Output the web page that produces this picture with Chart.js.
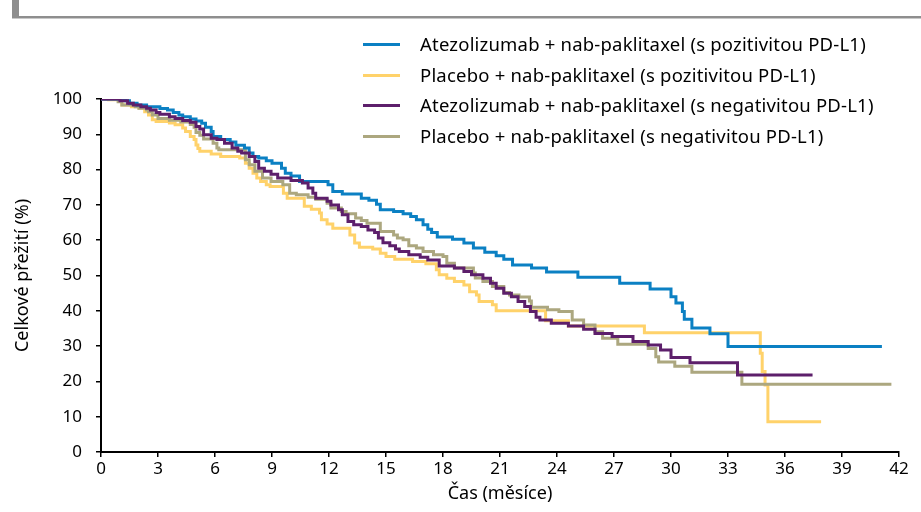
<!DOCTYPE html>
<html>
<head>
<meta charset="utf-8">
<script src="https://cdn.jsdelivr.net/npm/chart.js@4/dist/chart.umd.min.js"></script>
<style>
  html, body { margin: 0; padding: 0; background: #fff; }
  #wrap { position: relative; width: 921px; height: 512px; font-family: "Noto Sans", sans-serif; }
  #bar { position: absolute; left: 12px; top: 0; width: 7px; height: 18px; background: #8e8e8e; }
  #rule { position: absolute; left: 12px; top: 16px; right: 0; height: 2px; background: #8e8e8e; border-bottom: 1px solid #c8c8c8; }
  #legend { position: absolute; left: 363px; top: 29px; }
  .row { position: relative; height: 30.5px; line-height: 30px; font-size: 18.5px; letter-spacing: 0.2px; color: #000; white-space: nowrap; }
  .row span.sw { position: absolute; left: 0; top: 14px; width: 37px; height: 3px; }
  .row span.tx { position: absolute; left: 57px; top: 0; }
</style>
</head>
<body>
<div id="wrap">
  <canvas id="km" width="921" height="512"></canvas>
  <div id="bar"></div>
  <div id="rule"></div>
  <div id="legend"></div>
</div>
<script>
// months / overall survival (%)
const atezoPosT = [0, 1.3, 1.5, 1.9, 2.4, 3.1, 3.5, 3.8, 4.1, 4.3, 4.7, 5.0, 5.3, 5.5, 5.8, 5.9, 6.3, 6.8, 7.1, 7.55, 7.8, 8.0, 8.3, 8.7, 9.0, 9.5, 9.7, 10.0, 10.45, 11.95, 12.2, 12.7, 13.7, 14.1, 14.5, 14.7, 15.4, 15.9, 16.3, 16.6, 16.95, 17.2, 17.4, 17.7, 18.5, 19.1, 19.6, 20.2, 20.8, 21.2, 21.66, 22.66, 23.45, 25.1, 27.3, 28.9, 30.0, 30.26, 30.6, 30.7, 31.1, 32.05, 33.0, 41.1];
const atezoPosS = [100, 99.5, 98.8, 98.3, 97.8, 97.3, 96.9, 96.2, 95.5, 95.0, 94.3, 93.8, 93.1, 92.0, 90.8, 89.4, 88.5, 87.8, 86.9, 86.1, 84.7, 83.7, 83.3, 82.5, 81.8, 80.4, 79.0, 78.2, 76.6, 75.7, 73.8, 73.1, 71.9, 71.3, 70.2, 68.6, 68.1, 67.5, 66.7, 65.8, 64.4, 63.1, 62.2, 60.9, 60.3, 59.2, 57.8, 56.6, 55.6, 54.6, 53.0, 52.1, 51.0, 49.5, 47.8, 46.2, 44.0, 42.2, 39.8, 37.6, 35.1, 33.5, 29.9, 29.9];

const placeboPosT = [0, 0.4, 1.1, 1.6, 2.0, 2.3, 2.5, 2.7, 2.9, 3.6, 3.9, 4.3, 4.45, 4.7, 4.9, 5.0, 5.1, 5.2, 5.8, 6.3, 7.3, 7.6, 7.8, 8.0, 8.2, 8.4, 8.7, 8.9, 9.6, 9.8, 10.7, 11.07, 11.5, 11.6, 11.9, 12.2, 13.1, 13.35, 13.6, 14.3, 14.7, 15.0, 15.46, 16.4, 17.1, 17.65, 17.8, 18.2, 18.6, 19.1, 19.4, 19.76, 19.9, 20.6, 20.8, 23.4, 24.6, 28.6, 34.7, 34.8, 34.95, 35.1, 37.9];
const placeboPosS = [100, 99.8, 98.3, 97.8, 97.4, 96.4, 95.5, 94.1, 93.6, 93.2, 92.7, 91.8, 90.8, 89.4, 88.5, 87.0, 86.0, 85.2, 84.4, 83.7, 83.3, 81.8, 80.4, 79.0, 77.6, 76.6, 75.7, 75.2, 73.3, 71.9, 69.6, 68.8, 67.7, 65.8, 64.6, 63.4, 61.5, 59.2, 58.0, 57.5, 56.3, 55.4, 54.6, 54.0, 53.3, 51.6, 50.2, 49.2, 48.3, 47.3, 45.4, 44.5, 42.6, 41.7, 40.0, 37.2, 35.7, 33.8, 28.0, 22.8, 19.0, 8.6, 8.6];

const atezoNegT = [0, 1.0, 1.4, 1.7, 2.1, 2.4, 2.6, 2.9, 3.1, 3.6, 3.9, 4.3, 4.7, 5.0, 5.2, 5.4, 5.8, 6.1, 6.5, 6.9, 7.2, 7.4, 7.8, 8.1, 8.3, 8.6, 8.95, 9.3, 10.0, 10.6, 10.9, 11.15, 11.3, 11.9, 12.1, 12.5, 12.7, 13.0, 13.3, 13.7, 14.05, 14.4, 14.6, 14.84, 15.2, 15.5, 15.7, 16.2, 16.8, 17.2, 17.8, 18.6, 19.1, 19.5, 20.1, 20.5, 20.8, 21.2, 21.6, 21.95, 22.3, 22.6, 22.9, 23.1, 23.7, 24.6, 25.4, 26.0, 26.9, 28.0, 28.8, 29.45, 30.0, 31.0, 33.5, 37.45];
const atezoNegS = [100, 99.5, 98.8, 98.3, 97.8, 97.4, 96.9, 96.2, 95.7, 95.0, 94.5, 93.9, 93.4, 92.2, 91.5, 89.9, 88.9, 88.5, 87.5, 86.1, 85.2, 84.7, 83.7, 82.3, 80.4, 79.5, 78.7, 77.6, 76.9, 76.2, 74.8, 73.3, 71.9, 71.0, 70.0, 68.6, 67.2, 65.3, 64.4, 63.9, 62.9, 62.2, 60.6, 59.3, 58.4, 57.5, 56.8, 55.9, 55.2, 54.4, 52.7, 52.1, 51.1, 50.2, 49.2, 47.8, 46.4, 45.0, 44.0, 42.6, 41.2, 39.8, 38.2, 37.4, 36.5, 35.7, 34.8, 33.6, 32.7, 31.3, 30.3, 28.9, 26.8, 25.3, 21.8, 21.8];

const placeboNegT = [0, 0.9, 1.1, 1.8, 2.0, 2.4, 2.5, 2.7, 3.0, 3.6, 4.2, 4.7, 4.9, 5.0, 5.2, 5.4, 5.9, 6.1, 6.2, 7.6, 7.8, 8.1, 8.5, 8.95, 9.57, 9.93, 10.28, 10.9, 11.3, 11.9, 12.1, 12.65, 12.9, 13.4, 13.7, 14.0, 14.7, 15.4, 15.6, 15.9, 16.2, 16.6, 16.95, 17.5, 18.0, 18.2, 18.6, 19.6, 19.7, 20.1, 20.6, 21.2, 21.5, 22.0, 22.55, 22.65, 23.5, 24.1, 24.8, 25.4, 26.0, 26.4, 27.2, 28.8, 29.2, 29.35, 30.2, 31.1, 33.73, 41.6];
const placeboNegS = [100, 99.2, 98.3, 97.8, 97.4, 96.9, 96.4, 95.5, 94.5, 94.0, 93.5, 92.8, 92.0, 90.5, 89.7, 88.7, 87.5, 86.1, 85.6, 82.8, 81.4, 79.5, 77.6, 76.6, 75.7, 73.3, 72.9, 72.2, 71.6, 70.5, 69.1, 68.1, 67.5, 66.3, 65.6, 64.8, 62.5, 61.5, 60.6, 60.1, 58.4, 57.8, 56.8, 55.9, 55.4, 53.5, 52.1, 50.7, 49.3, 48.3, 46.9, 45.2, 44.5, 43.9, 42.8, 41.0, 40.3, 39.8, 37.4, 36.0, 34.1, 32.2, 30.5, 29.3, 27.0, 25.5, 24.3, 22.6, 19.2, 19.2];

const seriesNames = [
  "Atezolizumab + nab-paklitaxel (s pozitivitou PD-L1)",
  "Placebo + nab-paklitaxel (s pozitivitou PD-L1)",
  "Atezolizumab + nab-paklitaxel (s negativitou PD-L1)",
  "Placebo + nab-paklitaxel (s negativitou PD-L1)"
];
const seriesColors = ["#0b80c3", "#ffd26a", "#5d1f6b", "#aca77f"];
const drawOrder = [1, 3, 0, 2]; // purple on top, yellow underneath

const xTicks = [0, 3, 6, 9, 12, 15, 18, 21, 24, 27, 30, 33, 36, 39, 42];
const yTicks = [0, 10, 20, 30, 40, 50, 60, 70, 80, 90, 100];

const toPoints = (t, s) => t.map((x, i) => ({ x: x, y: s[i] }));
const allT = [atezoPosT, placeboPosT, atezoNegT, placeboNegT];
const allS = [atezoPosS, placeboPosS, atezoNegS, placeboNegS];

const datasets = seriesNames.map((name, i) => ({
  label: name,
  data: toPoints(allT[i], allS[i]),
  borderColor: seriesColors[i],
  borderWidth: 3,
  pointRadius: 0,
  stepped: true,
  fill: false,
  order: drawOrder[i]
}));

// legend as real text
const legend = document.querySelector("#legend");
seriesNames.forEach((name, i) => {
  const row = document.createElement("div");
  row.className = "row";
  row.innerHTML = `<span class="sw" style="background:${seriesColors[i]}"></span><span class="tx">${name}</span>`;
  legend.appendChild(row);
});

const tickFont = { family: "'Noto Sans', sans-serif", size: 17 };
const titleFont = { family: "'Noto Sans', sans-serif", size: 18 };

new Chart(document.querySelector("#km").getContext("2d"), {
  type: "line",
  data: { datasets: datasets },
  options: {
    responsive: false,
    animation: false,
    layout: { padding: { top: 99, right: 22, left: 0, bottom: 0 } },
    plugins: { legend: { display: false }, tooltip: { enabled: false } },
    scales: {
      x: {
        type: "linear",
        min: 0,
        max: 42,
        afterBuildTicks: (scale) => { scale.ticks = xTicks.map((v) => ({ value: v })); },
        afterFit: (scale) => { scale.height = 60; },
        grid: { drawOnChartArea: false, drawTicks: true, tickLength: 5, color: "#000", lineWidth: 1.5 },
        border: { color: "#000", width: 2 },
        ticks: { color: "#000", font: tickFont, padding: 2, maxRotation: 0, autoSkip: false },
        title: { display: true, text: "Čas (měsíce)", color: "#000", font: titleFont, padding: { top: 0, bottom: 7 } }
      },
      y: {
        min: 0,
        max: 100,
        afterBuildTicks: (scale) => { scale.ticks = yTicks.map((v) => ({ value: v })); },
        afterFit: (scale) => { scale.width = 101; },
        grid: { drawOnChartArea: false, drawTicks: true, tickLength: 5, color: "#000", lineWidth: 1.5 },
        border: { color: "#000", width: 2 },
        ticks: { color: "#000", font: tickFont, padding: 14, autoSkip: false },
        title: { display: true, text: "Celkové přežití (%)", color: "#000", font: titleFont, padding: { top: 12, bottom: 0 } }
      }
    }
  }
});
</script>
</body>
</html>
